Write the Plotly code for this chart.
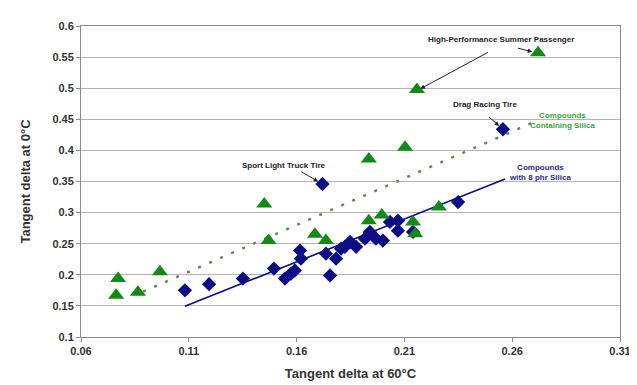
import plotly.graph_objects as go

# Compounds containing silica (green triangles)
silica_x = [0.0772, 0.0763, 0.0864, 0.0966, 0.145, 0.147, 0.1685, 0.1736, 0.1935,
            0.1995, 0.214, 0.215, 0.226, 0.1935, 0.2103, 0.2158, 0.272]
silica_y = [0.194, 0.167, 0.172, 0.205, 0.314, 0.255, 0.265, 0.255, 0.287,
            0.296, 0.285, 0.266, 0.309, 0.386, 0.405, 0.498, 0.557]

# Compounds with 8 phr silica (blue diamonds)
phr8_x = [0.1082, 0.1194, 0.1351, 0.1495, 0.1546, 0.1574, 0.1592, 0.1616, 0.162,
          0.172, 0.1736, 0.1755, 0.1783, 0.1806, 0.1824, 0.1848, 0.1876, 0.1917,
          0.194, 0.1968, 0.200, 0.2033, 0.207, 0.207, 0.214, 0.2349, 0.2557]
phr8_y = [0.175, 0.185, 0.194, 0.210, 0.194, 0.202, 0.207, 0.239, 0.226,
          0.346, 0.234, 0.199, 0.226, 0.242, 0.245, 0.253, 0.245, 0.258,
          0.269, 0.258, 0.255, 0.285, 0.287, 0.271, 0.269, 0.317, 0.434]

# trend lines (end points)
trend_silica_x = [0.0888, 0.271]
trend_silica_y = [0.173, 0.447]
trend_phr8_x = [0.1082, 0.2567]
trend_phr8_y = [0.1495, 0.354]

green = "#138a13"
navy = "#0d0d86"

fig = go.Figure()
fig.add_trace(go.Scatter(
    x=trend_silica_x, y=trend_silica_y, mode="lines",
    line=dict(color="#5f8a55", width=2.5, dash="3px,9px"),
    showlegend=False, hoverinfo="skip"
))
fig.add_trace(go.Scatter(
    x=trend_phr8_x, y=trend_phr8_y, mode="lines",
    line=dict(color=navy, width=1.6),
    showlegend=False, hoverinfo="skip"
))
fig.add_trace(go.Scatter(
    x=phr8_x, y=phr8_y, mode="markers",
    marker=dict(symbol="diamond", size=11, color=navy),
    name="Compounds with 8 phr Silica", showlegend=False
))
fig.add_trace(go.Scatter(
    x=silica_x, y=silica_y, mode="markers",
    marker=dict(symbol="triangle-up", size=14, color=green),
    name="Compounds Containing Silica", showlegend=False
))

note_font = dict(family="Liberation Sans, Arial", size=8, color="#222222")
arrow = dict(showarrow=True, arrowhead=2, arrowsize=0.9, arrowwidth=1,
             arrowcolor="#222222", xref="x", yref="y", axref="x", ayref="y")

fig.add_annotation(x=0.2158, y=0.496, ax=0.2495, ay=0.559, text="",
                   standoff=4, **arrow)
fig.add_annotation(x=0.272, y=0.556, ax=0.262, ay=0.565, text="",
                   standoff=6, **arrow)
fig.add_annotation(x=0.2548, y=0.578, text="<b>High-Performance Summer Passenger</b>",
                   showarrow=False, font=note_font)

fig.add_annotation(x=0.2557, y=0.434, ax=0.2485, ay=0.456, text="",
                   standoff=5, **arrow)
fig.add_annotation(x=0.2474, y=0.473, text="<b>Drag Racing Tire</b>",
                   showarrow=False, font=note_font)

fig.add_annotation(x=0.172, y=0.346, ax=0.1615, ay=0.367, text="",
                   standoff=5, **arrow)
fig.add_annotation(x=0.1540, y=0.375, text="<b>Sport Light Truck Tire</b>",
                   showarrow=False, font=note_font)

fig.add_annotation(x=0.2835, y=0.448, text="<b>Compounds<br>Containing Silica</b>",
                   showarrow=False, align="center",
                   font=dict(family="Liberation Sans, Arial", size=8, color="#3aa53a"))
fig.add_annotation(x=0.2730, y=0.365, text="<b>Compounds<br>with 8 phr Silica</b>",
                   showarrow=False, align="center",
                   font=dict(family="Liberation Sans, Arial", size=8, color="#2b2b8c"))

fig.update_layout(
    width=637,
    height=385,
    paper_bgcolor="white",
    plot_bgcolor="white",
    font=dict(family="Liberation Sans, Arial", color="#333333", size=11),
    margin=dict(l=73, r=25, t=16, b=56),
    xaxis=dict(
        range=[0.06, 0.31], tick0=0.06, dtick=0.05,
        showgrid=False, zeroline=False,
        showline=True, linecolor="#8a8a8a", linewidth=1, mirror=True,
        ticks="outside", ticklen=4, tickcolor="#8a8a8a",
        tickfont=dict(size=11, color="#333333"),
        title=dict(text="<b>Tangent delta at 60°C</b>", font=dict(size=13, color="#333333"),
                   standoff=12),
    ),
    yaxis=dict(
        range=[0.1, 0.6], tick0=0.1, dtick=0.05,
        showgrid=True, gridcolor="#b4b4b4", gridwidth=1.2, zeroline=False,
        showline=True, linecolor="#8a8a8a", linewidth=1, mirror=True,
        ticks="outside", ticklen=4, tickcolor="#8a8a8a",
        tickfont=dict(size=11, color="#333333"),
        title=dict(text="<b>Tangent delta at 0°C</b>", font=dict(size=13, color="#333333"),
                   standoff=18),
    ),
)

fig.update_xaxes(tickprefix="<b>", ticksuffix="</b>")
fig.update_yaxes(tickprefix="<b>", ticksuffix="</b>")

fig.write_html("out.html")
